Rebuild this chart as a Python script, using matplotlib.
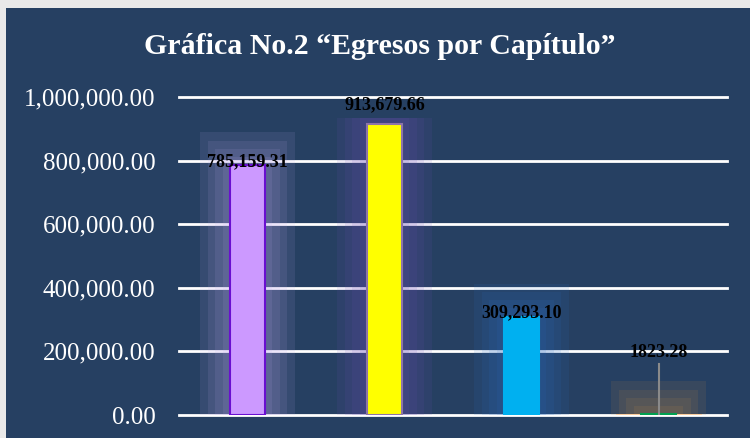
import matplotlib.pyplot as plt
from matplotlib.patches import Rectangle
from matplotlib.ticker import FuncFormatter

# data
categories = ["1000", "2000", "3000", "5000"]
values = [785159.31, 913679.66, 309293.10, 1823.28]
labels = ["785,159.31", "913,679.66", "309,293.10", "1823.28"]
bar_colors = ["#cc99ff", "#ffff00", "#00b0f0", "#00a050"]
edge_colors = ["#6a0fd0", "#8e74a8", "#00b0f0", "#00a050"]
glow_colors = ["#c0a8f0", "#7050b8", "#2f70c8", "#d09040"]

BG = "#264062"

fig = plt.figure(figsize=(7.5, 4.38), dpi=100, facecolor="#e9e9e9")
fig.patches.append(Rectangle((6 / 750, 0), 1, 1 - 8 / 438, transform=fig.transFigure,
                             facecolor=BG, edgecolor="none", zorder=-5))

ax = fig.add_axes([179 / 750, 23 / 438, (727 - 179) / 750, (415 - 97) / 438])
ax.set_zorder(1)
ax.set_facecolor("none")
ax.set_ylim(0, 1000000)
ax.set_xlim(-0.5, len(categories) - 0.5)

for y in range(0, 1000001, 200000):
    ax.axhline(y, color="white", lw=2, zorder=1, clip_on=False)

x = list(range(len(categories)))
w = 0.25

# soft glow behind each bar
for i, v in enumerate(values):
    for k in range(1, 5):
        pad = 0.055 * k
        top = min(v + 26000 * k, 935000)
        ax.add_patch(Rectangle((i - w / 2 - pad, 0), w + 2 * pad, top,
                               facecolor=glow_colors[i], edgecolor="none",
                               alpha=0.11, zorder=2))
# peach base under the smallest bar
ax.plot([3 - 0.3, 3 + 0.3], [0, 0], color="#ffcc99", lw=2, zorder=2.5)

ax.bar(x, values, width=w, color=bar_colors, edgecolor=edge_colors, linewidth=1.5, zorder=3)

# leader line for the small value
ax.plot([3, 3], [values[3], 160000], color="#8a8a8a", lw=1.5, zorder=4)

offsets = [-15000, 36000, -15000, 167000]
for i, v in enumerate(values):
    ax.text(i, v + offsets[i], labels[i], ha="center", va="bottom",
            fontsize=13, fontweight="bold", family="Liberation Serif", color="black", zorder=5)

ax.set_yticks(range(0, 1000001, 200000))
ax.yaxis.set_major_formatter(FuncFormatter(lambda v, p: f"{v:,.2f}"))
ax.tick_params(axis="y", length=0, pad=17, labelsize=18, labelcolor="white")
for t in ax.get_yticklabels():
    t.set_family("Liberation Serif")
ax.set_xticks([])
for s in ax.spines.values():
    s.set_visible(False)

fig.text(380 / 750, 1 - 47 / 438, "Gráfica No.2 \u201cEgresos por Capítulo\u201d",
         ha="center", va="center", color="white", fontsize=21.5, fontweight="bold",
         family="Liberation Serif")

fig.savefig("out.png", dpi=100, facecolor=fig.get_facecolor())
